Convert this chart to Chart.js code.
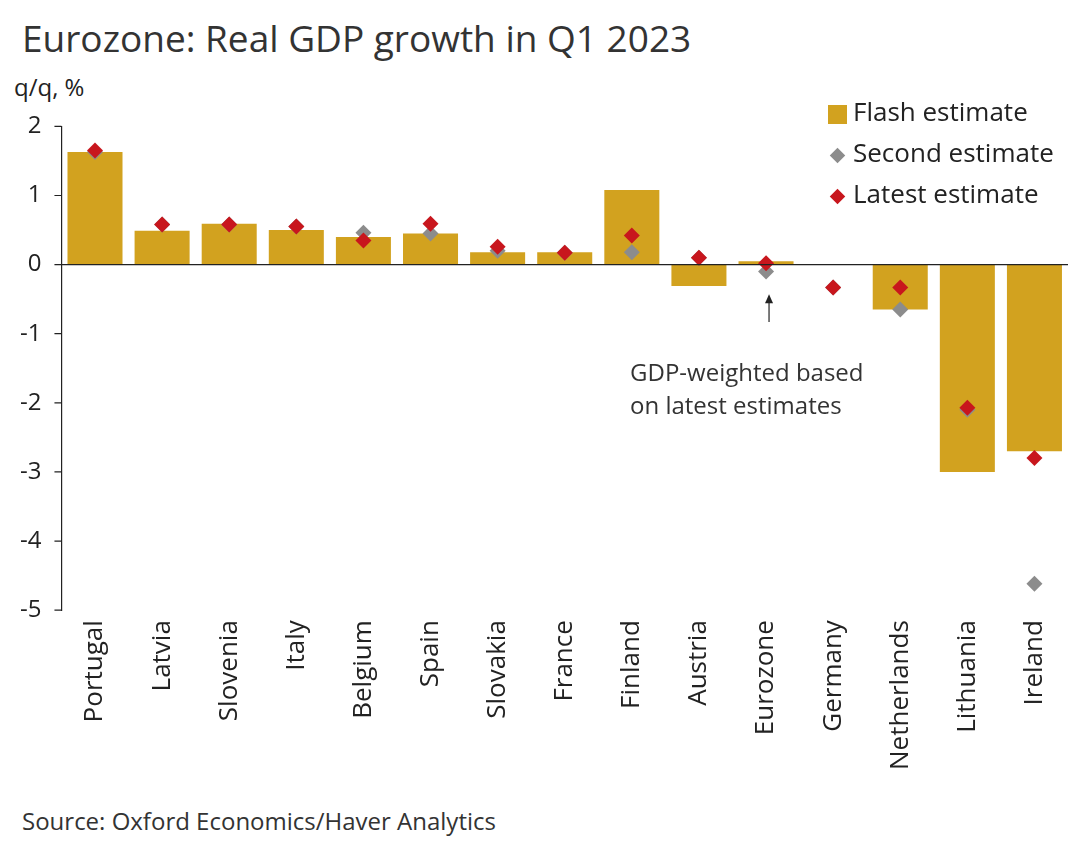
<!DOCTYPE html>
<html>
<head>
<meta charset="utf-8">
<script src="https://cdn.jsdelivr.net/npm/chart.js@4"></script>
<style>
  body { margin: 0; background: #fff; font-family: "Open Sans", "Noto Sans", sans-serif; color: #222; }
  #wrap { position: relative; width: 1080px; height: 852px; }
  #title { position: absolute; left: 22px; top: 12px; font-size: 37px; color: #333; }
  #unit { position: absolute; left: 14px; top: 70px; font-size: 24px; color: #222; }
  #source { position: absolute; left: 22px; top: 804px; font-size: 24px; color: #333; }
  #box { position: absolute; left: 0; top: 100px; width: 1080px; height: 672px; }
  #legend { position: absolute; left: 828px; top: 91px; font-size: 26px; color: #222; line-height: 41px; }
  .sw { display: inline-block; vertical-align: middle; margin-right: 6px; }
</style>
</head>
<body>
<div id="wrap">
  <div id="title">Eurozone: Real GDP growth in Q1 2023</div>
  <div id="unit">q/q, %</div>
  <div id="box"><canvas id="c"></canvas></div>
  <div id="legend">
    <div><span class="sw" style="width:19px;height:19px;background:#D2A21F"></span>Flash estimate</div>
    <div><span class="sw" style="width:11px;height:11px;background:#8c8c8c;transform:rotate(45deg);margin:0 10px 0 4px"></span>Second estimate</div>
    <div><span class="sw" style="width:11px;height:11px;background:#C8161D;transform:rotate(45deg);margin:0 10px 0 4px"></span>Latest estimate</div>
  </div>
  <div id="source">Source: Oxford Economics/Haver Analytics</div>
</div>
<script>
const countries = ['Portugal', 'Latvia', 'Slovenia', 'Italy', 'Belgium', 'Spain', 'Slovakia', 'France',
  'Finland', 'Austria', 'Eurozone', 'Germany', 'Netherlands', 'Lithuania', 'Ireland'];
const flash = [1.63, 0.49, 0.59, 0.5, 0.4, 0.45, 0.18, 0.18, 1.08, -0.31, 0.05, 0, -0.65, -3.0, -2.7];
const second = [1.63, 0.58, 0.58, 0.55, 0.46, 0.45, 0.2, 0.17, 0.18, 0.1, -0.1, -0.33, -0.65, -2.1, -4.62];
const latest = [1.65, 0.58, 0.58, 0.55, 0.35, 0.59, 0.26, 0.17, 0.42, 0.1, 0.02, -0.33, -0.33, -2.07, -2.8];
const yTicks = [2, 1, 0, -1, -2, -3, -4, -5];
const FONT = '"Open Sans", "Noto Sans", sans-serif';

// 零線、刻度線與注記
const decorPlugin = {
  id: 'decor',
  afterDatasetsDraw(chart) {
    const ctx = chart.ctx;
    const x = chart.scales.x, y = chart.scales.y;
    const area = chart.chartArea;
    ctx.save();
    ctx.strokeStyle = '#222';
    ctx.lineWidth = 1.2;
    ctx.beginPath();
    ctx.moveTo(area.left, y.getPixelForValue(0));
    ctx.lineTo(area.right, y.getPixelForValue(0));
    yTicks.forEach(v => {
      const py = y.getPixelForValue(v);
      ctx.moveTo(area.left - 7, py);
      ctx.lineTo(area.left, py);
    });
    ctx.stroke();

    // 箭頭
    const ix = countries.indexOf('Eurozone');
    const ax = x.getPixelForValue(ix) + 3;
    const yTop = y.getPixelForValue(-0.43);
    const yBot = y.getPixelForValue(-0.83);
    ctx.beginPath();
    ctx.moveTo(ax, yBot);
    ctx.lineTo(ax, yTop + 6);
    ctx.stroke();
    ctx.fillStyle = '#222';
    ctx.beginPath();
    ctx.moveTo(ax, yTop);
    ctx.lineTo(ax - 4, yTop + 9);
    ctx.lineTo(ax + 4, yTop + 9);
    ctx.closePath();
    ctx.fill();

    ctx.font = '24px ' + FONT;
    ctx.fillStyle = '#333';
    ctx.textBaseline = 'middle';
    ctx.fillText('GDP-weighted based', x.getPixelForValue(ix) - 136, y.getPixelForValue(-1.59));
    ctx.fillText('on latest estimates', x.getPixelForValue(ix) - 136, y.getPixelForValue(-2.06));
    ctx.restore();
  }
};

const diamond = (label, data, color) => ({
  type: 'line', label, data, showLine: false,
  pointStyle: 'rectRot', pointRadius: 8, pointHoverRadius: 8,
  backgroundColor: color, borderColor: color, borderWidth: 0
});

new Chart(document.getElementById('c'), {
  type: 'bar',
  data: {
    labels: countries,
    datasets: [
      diamond('Latest estimate', latest, '#C8161D'),
      diamond('Second estimate', second, '#8c8c8c'),
      { type: 'bar', label: 'Flash estimate', data: flash, backgroundColor: '#D2A21F',
        barPercentage: 0.82, categoryPercentage: 1 }
    ]
  },
  options: {
    responsive: true,
    maintainAspectRatio: false,
    animation: false,
    layout: { padding: { left: 8, right: 12, top: 19, bottom: 0 } },
    plugins: { legend: { display: false }, tooltip: { enabled: false } },
    scales: {
      x: {
        grid: { display: false },
        border: { display: false },
        ticks: { color: '#222', font: { size: 26, family: FONT },
          minRotation: 90, maxRotation: 90, padding: 2 }
      },
      y: {
        min: -5, max: 2,
        grid: { display: false },
        border: { display: true, color: '#222', width: 1.2 },
        afterBuildTicks: axis => { axis.ticks = yTicks.map(v => ({ value: v })); },
        ticks: { color: '#222', font: { size: 24, family: FONT }, padding: 12 }
      }
    }
  },
  plugins: [decorPlugin]
});
</script>
</body>
</html>
